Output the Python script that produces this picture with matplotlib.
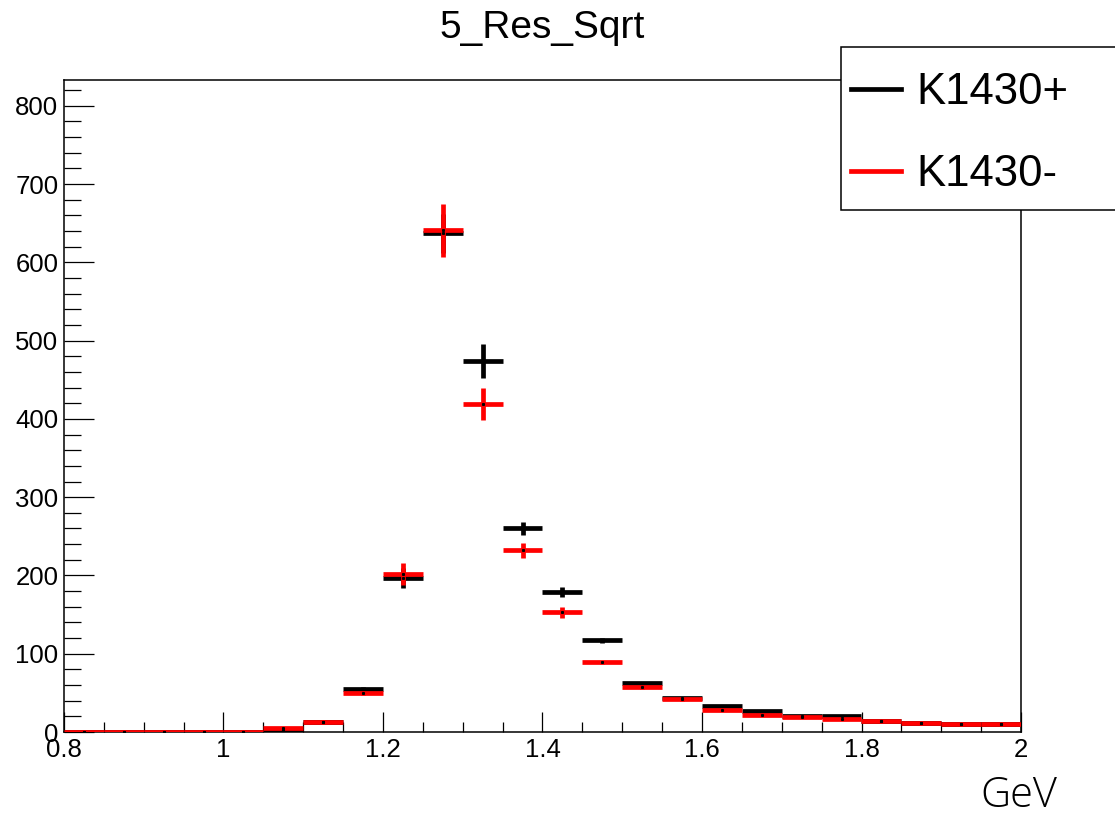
from matplotlib import pyplot as plt
from matplotlib import lines
from matplotlib import patches
import matplotlib.ticker as plticker
import numpy as np

plt.rcParams['font.family'] = ['Liberation Sans', 'DejaVu Sans']

# histogram binning: 24 bins of 0.05 GeV between 0.8 and 2.0
bin_edges = np.linspace(0.8, 2.0, 25)

k1430_plus = [0, 0, 0, 0, 0, 3, 13, 55, 197, 637, 474, 260, 179, 117,
              62, 43, 33, 27, 20, 20, 14, 12, 10, 10]
k1430_plus_err = [0, 0, 0, 0, 0, 1, 2, 3, 13, 25, 22, 8.5, 6, 3,
                  2, 2, 1.5, 1.5, 1, 1, 1, 1, 1, 1]

k1430_minus = [0, 0, 0, 0, 0, 5, 13, 50, 202, 641, 419, 232, 153, 89,
               57, 42, 28, 22, 19, 17, 14, 12, 10, 10]
k1430_minus_err = [0, 0, 0, 0, 0, 1, 2, 3, 14, 34, 20, 10, 7, 2,
                   2, 2, 1.5, 1.5, 1, 1, 1, 1, 1, 1]

series_labels = ["K1430+", "K1430-"]
series_colors = ["black", "red"]


def _draw_hist(ax, vals, errs, color):
    centers = 0.5 * (bin_edges[:-1] + bin_edges[1:])
    half_w = 0.5 * np.diff(bin_edges)
    ax.errorbar(centers, vals, xerr=half_w, yerr=errs, fmt='none',
                ecolor=color, elinewidth=3.4, capsize=0, zorder=3)
    ax.plot(centers, vals, linestyle='None', marker='s', markersize=1.2,
            color='black', zorder=4)


fig = plt.figure(figsize=(11.15, 8.16), dpi=100)
ax = fig.add_axes([64/1115, 1 - 732/816, (1021 - 64)/1115, (732 - 80)/816])

_draw_hist(ax, k1430_plus, k1430_plus_err, series_colors[0])
_draw_hist(ax, k1430_minus, k1430_minus_err, series_colors[1])

ax.set_xlim(0.8, 2.0)
ax.set_ylim(0, 833)

ax.xaxis.set_major_locator(plticker.MultipleLocator(0.2))
ax.xaxis.set_minor_locator(plticker.MultipleLocator(0.05))
ax.yaxis.set_major_locator(plticker.MultipleLocator(100))
ax.yaxis.set_minor_locator(plticker.MultipleLocator(20))
ax.xaxis.set_major_formatter(plticker.FuncFormatter(lambda v, p: f"{v:g}"))

ax.tick_params(axis='x', which='major', direction='in', length=14.4, width=0.9,
               labelsize=18.5, pad=4, top=False)
ax.tick_params(axis='x', which='minor', direction='in', length=7.2, width=0.9, top=False)
ax.tick_params(axis='y', which='major', direction='in', length=21.6, width=0.9,
               labelsize=18.5, pad=4, right=False)
ax.tick_params(axis='y', which='minor', direction='in', length=12.2, width=0.9, right=False)
for sp in ax.spines.values():
    sp.set_linewidth(1.1)

fig.text(542.5/1115, 1 - 28/816, "5_Res_Sqrt", ha='center', va='center', fontsize=28)
fig.text(1057/1115, 1 - 796/816, "GeV", ha='right', va='center', fontsize=30,
         family=['Open Sans', 'DejaVu Sans'], fontweight='light')

# legend box (runs off the right edge like the original canvas)
box = patches.Rectangle((841/1115, 1 - 210/816), 300/1115, (210 - 47)/816,
                        transform=fig.transFigure, facecolor='white',
                        edgecolor='black', linewidth=1.1, clip_on=False, zorder=5)
fig.add_artist(box)

handles = [lines.Line2D([], [], color=c, linewidth=3.4) for c in series_colors]
leg = fig.legend(handles, series_labels, loc='upper left',
                 bbox_to_anchor=(851/1115, 1 - 72/816), frameon=False,
                 fontsize=31.5, handlelength=1.15, handletextpad=0.35,
                 labelspacing=0.94, borderpad=0, borderaxespad=0)
leg.set_zorder(6)

fig.savefig("out.png", dpi=100)
